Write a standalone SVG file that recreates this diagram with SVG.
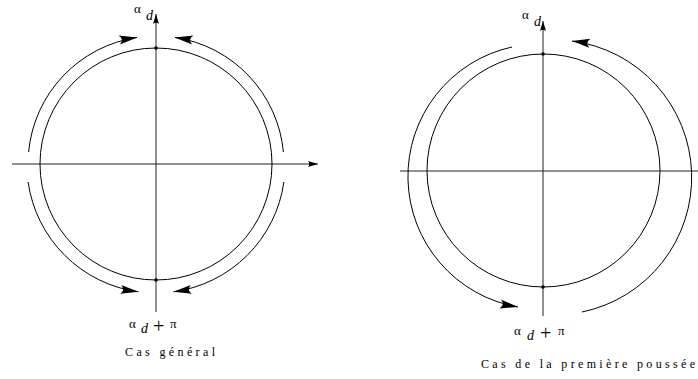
<svg xmlns="http://www.w3.org/2000/svg" width="698" height="379" viewBox="0 0 698 379">
<style>
.ln{fill:none;stroke:#000;stroke-width:1}
.ax{fill:none;stroke:#222;stroke-width:1}
.big{marker-end:url(#big)}
.sm{marker-end:url(#sm)}
text{font-family:"Liberation Serif","DejaVu Serif",serif;fill:#000}
.g{font-size:13px}
.i{font-size:14px;font-style:italic}
.p{font-size:20px}
.cap{font-size:12px}
</style>
<defs>
<marker id="big" markerUnits="userSpaceOnUse" markerWidth="22" markerHeight="12" viewBox="-20 -6 22 12" refX="0" refY="0" orient="auto" overflow="visible">
<path d="M0,0 L-18,-4.5 Q-13,0 -18,4.5 Z" fill="#000"/>
</marker>
<marker id="sm" markerUnits="userSpaceOnUse" markerWidth="12" markerHeight="8" viewBox="-11 -4 12 8" refX="0" refY="0" orient="auto" overflow="visible">
<path d="M0,0 L-10,-3 Q-7.5,0 -10,3 Z" fill="#000"/>
</marker>
</defs>

<g id="left-diagram">
<g id="left-axes">
<line class="ax sm" x1="12" y1="164" x2="318" y2="164"/>
<line class="ax sm" x1="156" y1="312" x2="156" y2="14"/>
</g>
<g id="left-circle">
<circle class="ln" cx="156" cy="164" r="116"/>
<circle cx="156" cy="48" r="1.8" fill="#000"/>
<circle cx="156" cy="280" r="1.8" fill="#000"/>
</g>
<g id="left-arcs">
<path class="ln big" d="M28.6,152 A128,128 0 0 1 137.1,37.4"/>
<path class="ln big" d="M283.4,152 A128,128 0 0 0 174.9,37.4"/>
<path class="ln big" d="M28.1,182 A129,129 0 0 0 138.5,291.8"/>
<path class="ln big" d="M283.9,182 A129,129 0 0 1 173.5,291.8"/>
</g>
<g id="left-labels">
<text class="g" x="134" y="13">α</text>
<text class="i" x="146" y="20">d</text>
<text class="g" x="129" y="328">α</text>
<text class="i" x="141" y="333">d</text>
<text class="p" x="153" y="333">+</text>
<text class="g" x="170" y="328">π</text>
<text class="cap" x="125" y="356" textLength="90" lengthAdjust="spacing">Cas général</text>
</g>
</g>

<g id="right-diagram">
<g id="right-axes">
<line class="ax sm" x1="400" y1="171" x2="708" y2="171"/>
<line class="ax sm" x1="543" y1="316" x2="543" y2="21"/>
</g>
<g id="right-circle">
<circle class="ln" cx="543.5" cy="170.5" r="116.5"/>
<circle cx="543" cy="54" r="1.8" fill="#000"/>
<circle cx="543" cy="287" r="1.8" fill="#000"/>
</g>
<g id="right-arcs">
<path class="ln big" d="M512,47 A132.5,132.5 0 0 0 518,307"/>
<path class="ln big" d="M582,312 A137.5,137.5 0 0 0 572,41"/>
</g>
<g id="right-labels">
<text class="g" x="522" y="19">α</text>
<text class="i" x="534" y="26">d</text>
<text class="g" x="514" y="335">α</text>
<text class="i" x="527" y="340">d</text>
<text class="p" x="540" y="340">+</text>
<text class="g" x="558" y="335">π</text>
<text class="cap" x="481" y="368" textLength="214" lengthAdjust="spacing">Cas de la première poussée</text>
</g>
</g>
</svg>
